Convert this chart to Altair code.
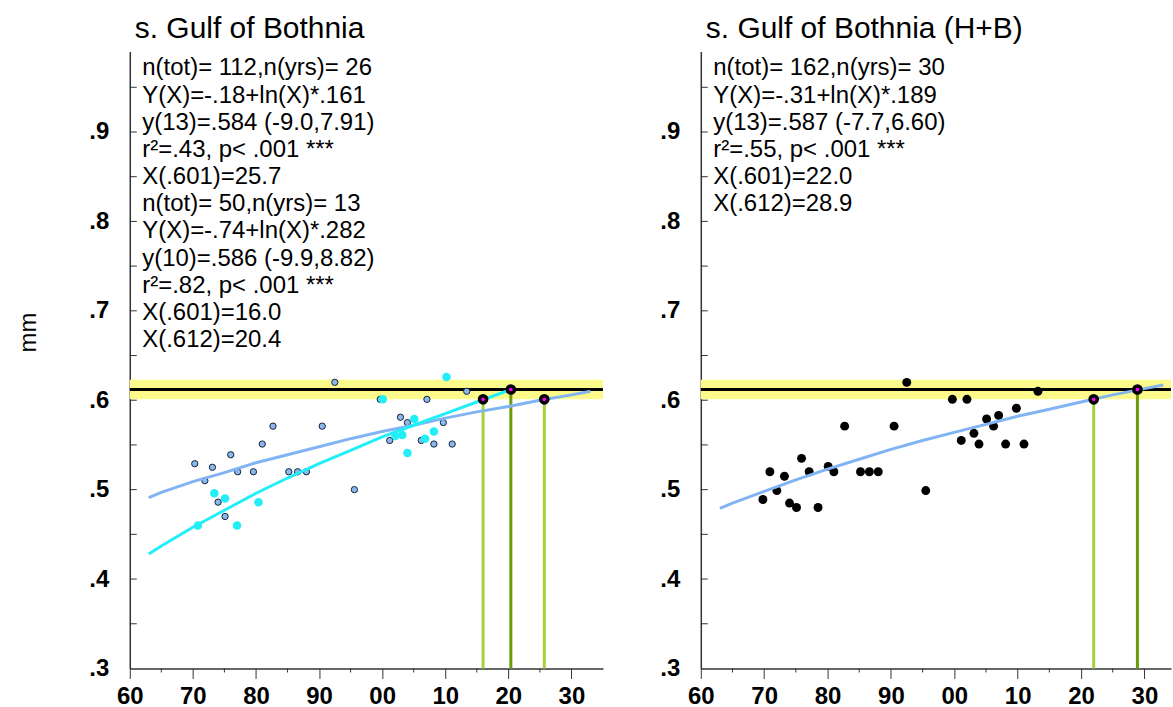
import altair as alt
import pandas as pd

FONT = "Liberation Sans"

# ---- observed yearly means (mm) -------------------------------------------
# s. Gulf of Bothnia, first series (outlined blue dots)
sgb1_years = [1970.3, 1971.9, 1973.1, 1974.0, 1975.1, 1976.0, 1977.1, 1979.6, 1981.0,
              1982.7, 1985.2, 1986.6, 1988.0, 1990.5, 1992.5, 1995.6, 1999.7, 2001.2,
              2002.9, 2004.0, 2006.2, 2007.1, 2008.2, 2009.7, 2011.1, 2013.4]
sgb1_mm = [.529, .510, .525, .486, .470, .539, .520, .520, .551,
           .571, .520, .520, .520, .571, .620, .500, .601, .555,
           .581, .575, .555, .601, .551, .575, .551, .610]

# s. Gulf of Bothnia, second series (cyan dots)
sgb2_years = [1970.8, 1973.4, 1975.1, 1977.0, 1980.4, 2000.1, 2002.1, 2003.2, 2004.0,
              2005.1, 2006.8, 2008.2, 2010.2]
sgb2_mm = [.460, .496, .490, .460, .486, .601, .560, .561, .541,
           .579, .557, .565, .626]

# s. Gulf of Bothnia, combined H+B series (black dots)
hb_years = [1969.8, 1970.9, 1972.0, 1973.2, 1974.0, 1975.1, 1975.9, 1977.1, 1978.5, 1980.1,
            1981.0, 1982.7, 1985.2, 1986.6, 1988.0, 1990.5, 1992.5, 1995.5, 1999.7, 2001.1,
            2002.0, 2003.1, 2003.9, 2005.1, 2006.2, 2007.0, 2008.1, 2009.8, 2011.0, 2013.2]
hb_mm = [.489, .520, .499, .515, .485, .480, .535, .520, .480, .526,
         .520, .571, .520, .520, .520, .571, .620, .499, .601, .555,
         .601, .563, .551, .579, .571, .583, .551, .591, .551, .610]

# ---- fitted log-trend curves ------------------------------------------------
fit1_years = [1963, 1965, 1970, 1975, 1980, 1985, 1990, 1995, 2000, 2005, 2010,
              2015, 2020, 2025, 2030, 2033]
fit1_mm = [.491, .497, .509, .519, .530, .539, .548, .557, .565, .572, .580,
           .587, .593, .600, .606, .610]

fit2_years = [1963, 1965, 1970, 1975, 1980, 1985, 1990, 1995, 2000, 2005, 2010,
              2015, 2020.4]
fit2_mm = [.428, .437, .458, .477, .496, .513, .529, .544, .559, .572, .585,
           .598, .612]

fit_hb_years = [1963, 1965, 1970, 1975, 1980, 1985, 1990, 1995, 2000, 2005, 2010,
                2015, 2020, 2025, 2030, 2033]
fit_hb_mm = [.479, .485, .498, .511, .523, .534, .545, .555, .564, .573, .582,
             .590, .598, .606, .613, .617]

# ---- reference level and its band -----------------------------------------
LIMIT = .612
BAND_LOW, BAND_HIGH = .601, .623

# years at which the trends reach the band edge / the reference level
cross1_years = [2016.0, 2020.4, 2025.7]
cross1_levels = [.601, .612, .601]
cross1_shade = ["light", "dark", "light"]

cross_hb_years = [2022.0, 2028.9]
cross_hb_levels = [.601, .612]
cross_hb_shade = ["light", "dark"]

# ---- printed statistics -----------------------------------------------------
stats_left = [
    "n(tot)= 112,n(yrs)= 26",
    "Y(X)=-.18+ln(X)*.161",
    "y(13)=.584 (-9.0,7.91)",
    "r\u00b2=.43, p< .001 ***",
    "X(.601)=25.7",
    "n(tot)= 50,n(yrs)= 13",
    "Y(X)=-.74+ln(X)*.282",
    "y(10)=.586 (-9.9,8.82)",
    "r\u00b2=.82, p< .001 ***",
    "X(.601)=16.0",
    "X(.612)=20.4",
]
stats_right = [
    "n(tot)= 162,n(yrs)= 30",
    "Y(X)=-.31+ln(X)*.189",
    "y(13)=.587 (-7.7,6.60)",
    "r\u00b2=.55, p< .001 ***",
    "X(.601)=22.0",
    "X(.612)=28.9",
]

y_label_values = [.3, .4, .5, .6, .7, .8, .9]
y_tick_values = [.35, .4, .45, .5, .55, .6, .65, .7, .75, .8, .85, .9, .95]
x_label_values = [1960, 1970, 1980, 1990, 2000, 2010, 2020, 2030]
x_minor_values = [1965, 1975, 1985, 1995, 2005, 2015, 2025]

BLUE_FILL = "#8bb7ec"
BLUE_LINE = "#82b4f4"
CYAN = "#22eef7"
YELLOW = "#fbfa8a"
GREEN = {"light": "#a6d13c", "dark": "#6a9c0a"}
AXIS_COLOR = "#333333"

HEIGHT = 618


def panel(title, stats, dots, fits, cross, x_max, width, y_title):
    xs = alt.Scale(domain=[1960, x_max], nice=False, zero=False)
    ys = alt.Scale(domain=[0.3, 0.99], nice=False, zero=False)
    x_axis = alt.Axis(values=x_label_values, labelExpr="format(datum.value % 100, '02d')",
                      tickSize=10, tickColor=AXIS_COLOR, labelPadding=6, grid=False,
                      domainColor=AXIS_COLOR, domainWidth=1.5, labelFontSize=24,
                      labelFontWeight="bold", labelFont=FONT, labelColor="black",
                      labelFlush=False, labelOverlap=False)
    axis_args = dict(values=y_label_values,
                     labelExpr="replace(format(datum.value, '.1f'), '0.', '.')",
                     ticks=False, labelPadding=21, grid=False, domainColor=AXIS_COLOR,
                     domainWidth=1.5, labelFontSize=24, labelFontWeight="bold",
                     labelFont=FONT, labelColor="black", labelOverlap=False)
    if y_title:
        axis_args.update(titleFontSize=24, titleFont=FONT, titleFontWeight="normal",
                         titleColor="black", titleX=-101, titleY=281, titleAngle=270,
                         titleAlign="center", titleBaseline="middle")
    y_axis = alt.Axis(**axis_args)

    def X(f):
        return alt.X(f, type="quantitative", scale=xs, axis=x_axis, title=None)

    def Y(f):
        return alt.Y(f, type="quantitative", scale=ys, axis=y_axis,
                     title=y_title if y_title else None)

    band_df = pd.DataFrame({"lo": [BAND_LOW], "hi": [BAND_HIGH], "level": [LIMIT]})
    band = alt.Chart(band_df).mark_rect(color=YELLOW).encode(
        x=alt.value(0), x2=alt.value(width), y=Y("lo"), y2="hi")
    limit = alt.Chart(band_df).mark_rule(color="black", strokeWidth=3).encode(y=Y("level"))

    cross_df = pd.DataFrame({"year": cross[0], "level": cross[1], "shade": cross[2],
                             "floor": [0.3] * len(cross[0])})
    drops = alt.Chart(cross_df).mark_rule(strokeWidth=3).encode(
        x=X("year"), y=Y("floor"), y2="level",
        color=alt.Color("shade:N", scale=alt.Scale(domain=list(GREEN.keys()),
                                                  range=list(GREEN.values())), legend=None))

    layers = [band, limit, drops]
    for yrs, vals, style in dots:
        df = pd.DataFrame({"year": yrs, "mm": vals})
        layers.append(alt.Chart(df).mark_circle(opacity=1, **style).encode(
            x=X("year"), y=Y("mm")))
    for yrs, vals, color in fits:
        df = pd.DataFrame({"year": yrs, "mm": vals})
        layers.append(alt.Chart(df).mark_line(color=color, strokeWidth=3).encode(
            x=X("year"), y=Y("mm")))

    layers.append(alt.Chart(cross_df).mark_circle(
        opacity=1, fill="#ff00ff", stroke="black", strokeWidth=3.5, size=52).encode(
        x=X("year"), y=Y("level")))

    # inward ticks on the value axis, outward minor ticks on the year axis
    ytick_df = pd.DataFrame({"v": y_tick_values})
    layers.append(alt.Chart(ytick_df).mark_rule(color=AXIS_COLOR, strokeWidth=1).encode(
        y=Y("v"), x=alt.value(0), x2=alt.value(7)))
    xtick_df = pd.DataFrame({"v": x_minor_values})
    layers.append(alt.Chart(xtick_df).mark_rule(color=AXIS_COLOR, strokeWidth=1).encode(
        x=X("v"), y=alt.value(HEIGHT), y2=alt.value(HEIGHT + 4)))

    text_df = pd.DataFrame({"text": ["\n".join(stats)]})
    layers.append(alt.Chart(text_df).mark_text(
        align="left", baseline="top", lineBreak="\n", lineHeight=27.2,
        fontSize=24, font=FONT, color="black").encode(
        text="text:N", x=alt.value(12.5), y=alt.value(5)))

    return alt.layer(*layers).properties(
        width=width, height=HEIGHT,
        title=alt.TitleParams(title, anchor="start", frame="group", dx=5, fontSize=30,
                              font=FONT, fontWeight="normal", color="black", offset=-16,
                              baseline="alphabetic"))


left = panel(
    "s. Gulf of Bothnia", stats_left,
    dots=[(sgb1_years, sgb1_mm, dict(fill=BLUE_FILL, stroke="#16243a", strokeWidth=1, size=40)),
          (sgb2_years, sgb2_mm, dict(color=CYAN, size=72))],
    fits=[(fit1_years, fit1_mm, BLUE_LINE), (fit2_years, fit2_mm, CYAN)],
    cross=(cross1_years, cross1_levels, cross1_shade),
    x_max=2035, width=474, y_title="mm")

right = panel(
    "s. Gulf of Bothnia (H+B)", stats_right,
    dots=[(hb_years, hb_mm, dict(color="black", size=80))],
    fits=[(fit_hb_years, fit_hb_mm, BLUE_LINE)],
    cross=(cross_hb_years, cross_hb_levels, cross_hb_shade),
    x_max=2034.2, width=471, y_title=None)

chart = alt.hconcat(left, right, spacing=98, bounds="flush").properties(
    padding={"left": 17, "top": 13, "right": 0, "bottom": 0},
    background="white",
).configure_view(strokeWidth=0)

chart.save("out.html", embed_options={"renderer": "svg", "actions": False})
